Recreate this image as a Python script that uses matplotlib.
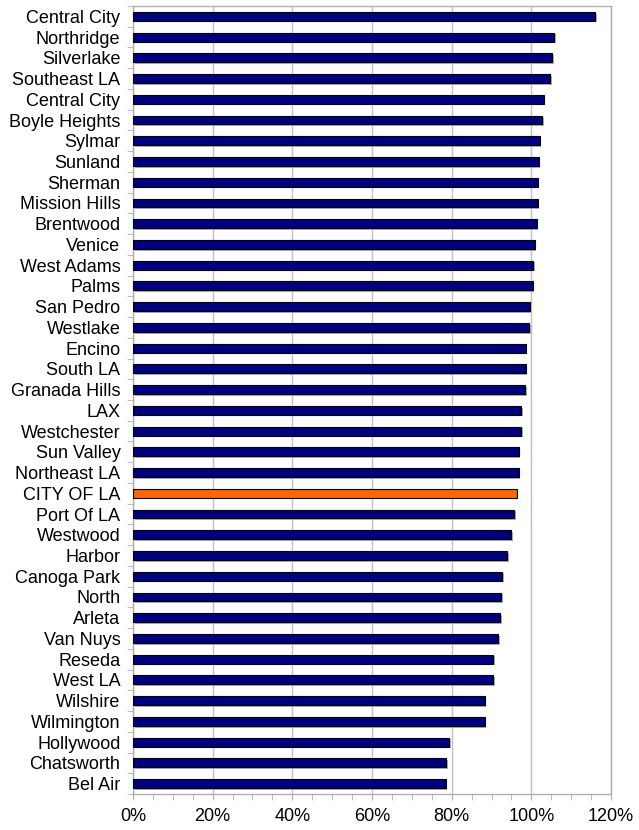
import matplotlib

matplotlib.use("Agg")
import matplotlib.pyplot as plt
import matplotlib.patheffects as pe
import numpy as np
from matplotlib.ticker import FuncFormatter, MultipleLocator

plt.rcParams["font.family"] = ["Liberation Sans", "DejaVu Sans"]

areas = [
    "Central City", "Northridge", "Silverlake", "Southeast LA", "Central City",
    "Boyle Heights", "Sylmar", "Sunland", "Sherman", "Mission Hills",
    "Brentwood", "Venice", "West Adams", "Palms", "San Pedro", "Westlake",
    "Encino", "South LA", "Granada Hills", "LAX", "Westchester", "Sun Valley",
    "Northeast LA", "CITY OF LA", "Port Of LA", "Westwood", "Harbor",
    "Canoga Park", "North", "Arleta", "Van Nuys", "Reseda", "West LA",
    "Wilshire", "Wilmington", "Hollywood", "Chatsworth", "Bel Air",
]
values = [
    116.1, 105.7, 105.2, 104.7, 103.1, 102.7, 102.1, 101.8, 101.6, 101.6,
    101.3, 100.8, 100.5, 100.3, 99.6, 99.4, 98.6, 98.6, 98.4, 97.4, 97.4,
    96.8, 96.8, 96.3, 95.7, 94.9, 93.9, 92.7, 92.5, 92.2, 91.7, 90.5, 90.5,
    88.3, 88.3, 79.4, 78.7, 78.5,
]
highlight = "CITY OF LA"

fig = plt.figure(figsize=(6.39, 8.30), dpi=100)
ax = fig.add_axes([0.2081, 0.0434, 0.7481, 0.9494])

y = np.arange(len(areas))
colors = ["#ff6600" if a == highlight else "#000080" for a in areas]
bars = ax.barh(y, values, height=0.43, color=colors, edgecolor="black",
               linewidth=0.8, zorder=3)
for b in bars:
    b.set_path_effects([pe.SimplePatchShadow(offset=(1.2, -1.2), shadow_rgbFace="#999999",
                                             alpha=0.8), pe.Normal()])

ax.set_xlim(0, 120)
ax.set_ylim(len(areas) - 0.5, -0.5)
ax.xaxis.set_major_locator(MultipleLocator(20))
ax.xaxis.set_minor_locator(MultipleLocator(5))
ax.xaxis.set_major_formatter(FuncFormatter(lambda v, _: f"{v:.0f}%"))
ax.grid(axis="x", which="major", color="#c0c0c0", linewidth=1, zorder=0)

ax.set_yticks(y)
ax.set_yticklabels(areas)
ax.set_yticks(np.arange(len(areas) + 1) - 0.5, minor=True)
ax.tick_params(axis="y", which="major", length=0, labelsize=13, pad=9)
ax.tick_params(axis="y", which="minor", length=4, color="#b0b0b0", direction="out")
ax.tick_params(axis="x", which="both", length=4, color="#b0b0b0", labelsize=13, pad=6)

for s in ax.spines.values():
    s.set_color("#b0b0b0")
    s.set_linewidth(1)

fig.savefig("out.png", dpi=100)
